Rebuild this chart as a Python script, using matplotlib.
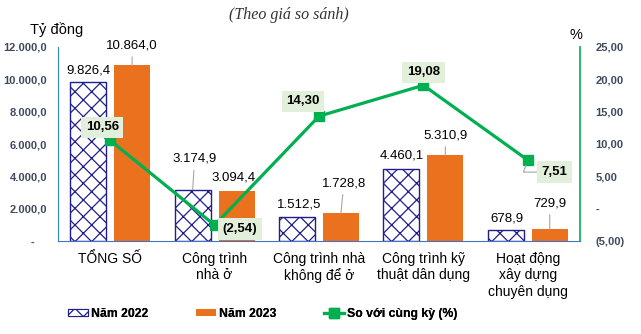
import matplotlib.pyplot as plt
import numpy as np
from matplotlib.lines import Line2D
from matplotlib.patches import Patch

plt.rcParams['font.family'] = ['Liberation Sans', 'DejaVu Sans']
plt.rcParams['hatch.color'] = '#1F1F8C'
plt.rcParams['hatch.linewidth'] = 0.9

categories = ['TỔNG SỐ', 'Công trình\nnhà ở', 'Công trình nhà\nkhông để ở',
              'Công trình kỹ\nthuật dân dụng', 'Hoạt động\nxây dựng\nchuyên dụng']
val_2022 = [9826.4, 3174.9, 1512.5, 4460.1, 678.9]
val_2023 = [10864.0, 3094.4, 1728.8, 5310.9, 729.9]
growth = [10.56, -2.54, 14.30, 19.08, 7.51]

left_ticks = [0, 2000, 4000, 6000, 8000, 10000, 12000]
right_ticks = [-5, 0, 5, 10, 15, 20, 25]

ORANGE = '#EA711E'
GREEN = '#00B050'
NAVY = '#1F1F8C'
TICK_C = '#404A5C'


def vn_num(v, d):
    s = f'{abs(v):,.{d}f}'.replace(',', 'X').replace('.', ',').replace('X', '.')
    return f'({s})' if v < 0 else s


fig = plt.figure(figsize=(6.41, 3.34), dpi=100)
ax = fig.add_axes([58 / 641, 1 - 241 / 334, 522 / 641, 194 / 334])
ax2 = ax.twinx()

x = np.arange(len(categories))
w = 0.345
off = 0.21
b1 = ax.bar(x - off, val_2022, w, facecolor='white', edgecolor=NAVY, hatch='xx', linewidth=1.0)
b2 = ax.bar(x + off, val_2023, w, color=ORANGE, linewidth=0)

ax.set_xlim(-0.5, len(categories) - 0.5)
ax.set_ylim(0, 12000)
ax.set_yticks(left_ticks)
ax.set_yticklabels(['-    '] + [vn_num(v, 1) for v in left_ticks[1:]])
ax.tick_params(axis='y', length=0, pad=8, labelsize=8, labelcolor=TICK_C)
for t in ax.get_yticklabels():
    t.set_fontweight('bold')
ax.set_xticks(x)
ax.set_xticklabels(categories, fontsize=10, linespacing=1.2)
ax.tick_params(axis='x', length=0, pad=8)

ax.spines['top'].set_visible(False)
ax.spines['right'].set_visible(False)
ax.spines['left'].set_color('#2E86C1')
ax.spines['bottom'].set_color('#4472C4')

ax2.set_ylim(-5, 25)
ax2.set_yticks(right_ticks)
ax2.set_yticklabels(['(5,00)', '-'] + [vn_num(v, 2) for v in right_ticks[2:]], ha='left')
ax2.tick_params(axis='y', length=0, pad=11, labelsize=8, labelcolor=TICK_C)
for t in ax2.get_yticklabels():
    t.set_fontweight('bold')
for s in ['top', 'left', 'bottom']:
    ax2.spines[s].set_visible(False)
ax2.spines['right'].set_color(GREEN)
ax2.spines['right'].set_linewidth(1.2)

ax2.plot(x, growth, color=GREEN, lw=2.3, marker='s', ms=6.5, zorder=5)

# bar value labels (offsets in pixels from the bar top), leader line if far
bar_offsets_22 = [(0, 12), (2, 31), (2, 12), (0, 13), (1, 12)]
bar_offsets_23 = [(0, 20), (-3, 13), (3, 30), (0, 20), (0, 26)]
for bars, vals, offs in [(b1, val_2022, bar_offsets_22), (b2, val_2023, bar_offsets_23)]:
    for bar, v, (dx, dy) in zip(bars, vals, offs):
        cx = bar.get_x() + bar.get_width() / 2
        arrow = None
        if dy > 15:
            arrow = dict(arrowstyle='-', color='#A6A6A6', lw=0.8, shrinkA=2, shrinkB=0)
        ax.annotate(vn_num(v, 1), (cx, v), xytext=(dx, dy), textcoords='offset pixels',
                    ha='center', va='center', fontsize=9.5, arrowprops=arrow)

# growth labels in light green boxes
line_offsets = [(-8, 13), (25, -4), (-16, 15), (0, 13), (27, -12)]
for xi, g, (dx, dy) in zip(x, growth, line_offsets):
    arrow = None
    if xi == 4:
        arrow = dict(arrowstyle='-', color='#A6A6A6', lw=0.8, shrinkA=0, shrinkB=4,
                     connectionstyle='angle,angleA=0,angleB=70')
    ax2.annotate(vn_num(g, 2), (xi, g), xytext=(dx, dy), textcoords='offset pixels',
                 ha='center', va='center', fontsize=9.5, fontweight='bold', zorder=6,
                 bbox=dict(boxstyle='square,pad=0.35', fc='#E2EFDA', ec='none'),
                 arrowprops=arrow)

fig.text(289 / 641, 1 - 15 / 334, '(Theo giá so sánh)', ha='center', va='center',
         fontsize=11.5, style='italic', family='Liberation Serif', color='#333333')
fig.text(57 / 641, 1 - 30 / 334, 'Tỷ đồng', ha='center', va='center', fontsize=10.5)
fig.text(576 / 641, 1 - 35 / 334, '%', ha='center', va='center', fontsize=10.5)

# legend: one entry per box so each sits at its own x position
handles = [Patch(facecolor='white', edgecolor=NAVY, hatch='xx', lw=0.8),
           Patch(facecolor=ORANGE),
           Line2D([], [], color=GREEN, lw=2.3, marker='s', ms=6.5)]
names = ['Năm 2022', 'Năm 2023', 'So với cùng kỳ (%)']
legend_x = [68, 196, 324]
for h, n, lx in zip(handles, names, legend_x):
    lg = fig.legend([h], [n], loc='center left', bbox_to_anchor=(lx / 641, 1 - 314 / 334),
                    frameon=False, borderpad=0, borderaxespad=0,
                    prop={'weight': 'bold', 'size': 8.8},
                    handlelength=1.65, handleheight=0.5, handletextpad=0.2)
    fig.add_artist(lg)

fig.savefig('out.png', dpi=100)
